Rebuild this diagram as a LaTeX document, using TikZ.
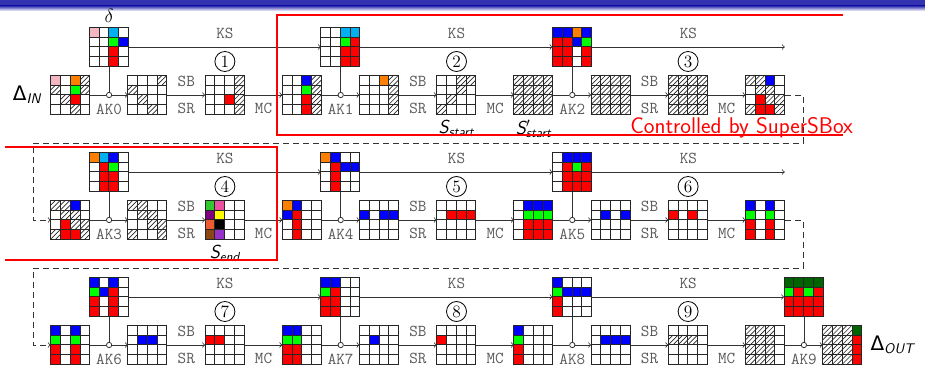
\documentclass[tikz,border=0pt]{standalone}
\usepackage{amsmath,amssymb}
\usepackage{fontspec}
\newfontfamily\deltafont{DejaVu Sans}
\usepackage{tikz}
\usetikzlibrary{positioning,calc,arrows}

\definecolor{beamerblue}{RGB}{51,51,178}
\definecolor{cpink}{RGB}{244,182,194}
\definecolor{corange}{RGB}{255,128,0}
\definecolor{ccyan}{RGB}{0,176,240}
\definecolor{cgreen}{RGB}{0,255,0}
\definecolor{cblue}{RGB}{0,0,255}
\definecolor{cred}{RGB}{255,0,0}
\definecolor{cdkgreen}{RGB}{0,100,0}
\definecolor{cmidgreen}{RGB}{50,200,50}
\definecolor{chotpink}{RGB}{236,80,160}
\definecolor{cpurple}{RGB}{128,0,128}
\definecolor{cyellow}{RGB}{255,255,0}
\definecolor{ctomato}{RGB}{238,90,50}
\definecolor{cbrown}{RGB}{140,70,20}
\definecolor{cviolet}{RGB}{150,50,200}

% one 4x4 state: name, centre, 16 cell codes row by row
\newcommand{\cellsz}{9.75}
\newcommand{\aesgrid}[3]{%
  \node[gridbox] (#1) at (#2) {};
  \foreach \c [count=\i from 0] in {#3}{%
    \pgfmathtruncatemacro{\cx}{mod(\i,4)}%
    \pgfmathtruncatemacro{\cy}{div(\i,4)}%
    \path[cell \c] ($(#1.north west)+(\cx*\cellsz,\cy*\cellsz)$) rectangle ++(\cellsz,\cellsz);
  }%
}

\begin{document}
\begin{tikzpicture}[x=0.75pt, y=-0.75pt,
  gridbox/.style={rectangle, minimum size=29.25pt, inner sep=0pt},
  cell/.style={draw=black!85, line width=0.7pt},
  hatch/.style={path picture={
    \draw[line width=0.5pt] (path picture bounding box.south west) -- (path picture bounding box.north east);
    \draw[line width=0.5pt] (path picture bounding box.west) -- (path picture bounding box.north);
    \draw[line width=0.5pt] (path picture bounding box.south) -- (path picture bounding box.east);}},
  cell w/.style={cell, fill=white},
  cell h/.style={cell, fill=white, hatch},
  cell p/.style={cell, fill=cpink},
  cell o/.style={cell, fill=corange},
  cell c/.style={cell, fill=ccyan},
  cell g/.style={cell, fill=cgreen},
  cell b/.style={cell, fill=cblue},
  cell r/.style={cell, fill=cred},
  cell dg/.style={cell, fill=cdkgreen},
  cell gg/.style={cell, fill=cmidgreen},
  cell hp/.style={cell, fill=chotpink},
  cell pu/.style={cell, fill=cpurple},
  cell ye/.style={cell, fill=cyellow},
  cell tm/.style={cell, fill=ctomato},
  cell bk/.style={cell, fill=black},
  cell br/.style={cell, fill=cbrown},
  cell vi/.style={cell, fill=cviolet},
  flow/.style={->, draw=black!80, line width=0.6pt},
  wrap/.style={flow, dash pattern=on 4.5pt off 3pt},
  keyline/.style={draw=black!80, line width=0.6pt},
  akdot/.style={circle, draw=black!80, fill=white, inner sep=0pt, minimum size=4pt, line width=0.6pt},
  oplabel/.style={font=\fontsize{12.5}{12.5}\selectfont\ttfamily, text=black!65, inner sep=1pt},
  roundnum/.style={circle, draw, inner sep=0.5pt, minimum size=15pt, line width=0.6pt, font=\fontsize{13}{13}\selectfont},
  svar/.style={font=\fontsize{14}{14}\selectfont\sffamily\itshape, inner sep=1pt},
  dlabel/.style={font=\fontsize{15}{15}\selectfont\sffamily, inner sep=1pt},
  superbox/.style={draw=cred, line width=1.9pt}]

\useasboundingbox (0,0) rectangle (925,367);

% slide header
\fill[beamerblue] (0,0) rectangle (925,6);
\shade[top color=beamerblue, bottom color=white] (0,6) rectangle (925,11);

% row 1
\aesgrid{a0}{70.5,95}{p,w,o,h,h,w,g,h,w,h,r,w,w,w,h,w}
\aesgrid{ka0}{109.1,47}{p,w,c,w,w,w,g,b,w,w,r,w,w,w,r,w}
\aesgrid{a1}{147.7,95}{w,w,w,h,h,w,w,w,w,h,w,w,w,w,h,w}
\aesgrid{a2}{224.9,95}{w,w,w,h,w,w,w,h,w,w,r,h,w,w,w,h}
\aesgrid{a3}{302.1,95}{w,w,b,h,w,w,g,h,w,w,r,h,w,w,r,h}
\aesgrid{ka1}{340.7,47}{w,w,c,c,w,w,g,r,w,w,r,r,w,w,r,r}
\aesgrid{a4}{379.3,95}{w,w,o,h,w,w,w,h,w,w,w,h,w,w,w,h}
\aesgrid{a5}{456.5,95}{w,w,h,h,w,w,h,w,w,h,w,w,h,w,w,w}
\aesgrid{a6}{533.7,95}{h,h,h,h,h,h,h,h,h,h,h,h,h,h,h,h}
\aesgrid{ka2}{572.3,47}{b,b,o,b,r,r,b,g,r,r,w,r,r,r,w,r}
\aesgrid{a7}{610.9,95}{h,h,h,h,h,h,h,h,h,h,h,h,h,h,h,h}
\aesgrid{a8}{688.1,95}{h,h,h,h,h,h,h,h,h,h,h,h,h,h,h,h}
\aesgrid{a9}{765.3,95}{h,h,b,w,w,h,h,w,w,r,h,h,h,r,r,h}

% row 2
\aesgrid{b0}{70.5,220}{h,h,b,w,w,h,h,w,w,r,h,h,h,r,r,h}
\aesgrid{kb0}{109.1,172}{o,c,b,w,w,r,g,w,w,r,r,w,w,r,r,w}
\aesgrid{b1}{147.7,220}{h,h,w,w,w,h,h,w,w,w,h,h,h,w,w,h}
\aesgrid{b2}{224.9,220}{gg,hp,w,w,pu,ye,w,w,tm,bk,w,w,br,vi,w,w}
\aesgrid{b3}{302.1,220}{o,b,w,w,b,r,w,w,w,r,w,w,w,r,w,w}
\aesgrid{kb1}{340.7,172}{o,b,w,w,w,r,b,b,w,r,w,w,w,r,w,w}
\aesgrid{b4}{379.3,220}{w,w,w,w,b,w,b,b,w,w,w,w,w,w,w,w}
\aesgrid{b5}{456.5,220}{w,w,w,w,w,r,r,r,w,w,w,w,w,w,w,w}
\aesgrid{b6}{533.7,220}{w,b,b,b,w,g,g,g,w,r,r,r,w,r,r,r}
\aesgrid{kb2}{572.3,172}{w,b,b,b,w,r,g,r,w,r,r,r,w,r,r,r}
\aesgrid{b7}{610.9,220}{w,w,w,w,w,b,w,b,w,w,w,w,w,w,w,w}
\aesgrid{b8}{688.1,220}{w,w,w,w,r,w,r,w,w,w,w,w,w,w,w,w}
\aesgrid{b9}{765.3,220}{b,w,b,w,g,w,g,w,r,w,r,w,r,w,r,w}

% row 3
\aesgrid{c0}{70.5,345}{b,w,b,w,g,w,g,w,r,w,r,w,r,w,r,w}
\aesgrid{kc0}{109.1,297}{b,w,b,w,g,b,r,w,r,w,r,w,r,w,r,w}
\aesgrid{c1}{147.7,345}{w,w,w,w,w,b,b,w,w,w,w,w,w,w,w,w}
\aesgrid{c2}{224.9,345}{w,w,w,w,r,r,w,w,w,w,w,w,w,w,w,w}
\aesgrid{c3}{302.1,345}{b,b,w,w,g,g,w,w,r,r,w,w,r,r,w,w}
\aesgrid{kc1}{340.7,297}{b,b,w,w,g,r,w,w,r,r,w,w,r,r,w,w}
\aesgrid{c4}{379.3,345}{w,w,w,w,w,b,w,w,w,w,w,w,w,w,w,w}
\aesgrid{c5}{456.5,345}{w,w,w,w,r,w,w,w,w,w,w,w,w,w,w,w}
\aesgrid{c6}{533.7,345}{b,w,w,w,g,w,w,w,r,w,w,w,r,w,w,w}
\aesgrid{kc2}{572.3,297}{b,w,w,w,g,b,b,b,r,w,w,w,r,w,w,w}
\aesgrid{c7}{610.9,345}{w,w,w,w,w,b,b,b,w,w,w,w,w,w,w,w}
\aesgrid{c8}{688.1,345}{w,w,w,w,h,h,h,w,w,w,w,w,w,w,w,w}
\aesgrid{c9}{765.3,345}{h,h,h,w,h,h,h,w,h,h,h,w,h,h,h,w}
\aesgrid{kc3}{803.9,297}{dg,dg,dg,dg,g,r,g,r,r,r,r,r,r,r,r,r}
\aesgrid{c10}{842.5,345}{h,h,h,dg,h,h,h,r,h,h,h,r,h,h,h,r}

% add-key points
\node[akdot] (ak0) at (109.1,95) {};
\node[akdot] (ak1) at (340.7,95) {};
\node[akdot] (ak2) at (572.3,95) {};
\node[akdot] (ak3) at (109.1,220) {};
\node[akdot] (ak4) at (340.7,220) {};
\node[akdot] (ak5) at (572.3,220) {};
\node[akdot] (ak6) at (109.1,345) {};
\node[akdot] (ak7) at (340.7,345) {};
\node[akdot] (ak8) at (572.3,345) {};
\node[akdot] (ak9) at (803.9,345) {};

\node[oplabel, below=3pt of ak0] (lak0) {AK0};
\node[oplabel, below=3pt of ak1] (lak1) {AK1};
\node[oplabel, below=3pt of ak2] (lak2) {AK2};
\node[oplabel, below=3pt of ak3] (lak3) {AK3};
\node[oplabel, below=3pt of ak4] (lak4) {AK4};
\node[oplabel, below=3pt of ak5] (lak5) {AK5};
\node[oplabel, below=3pt of ak6] (lak6) {AK6};
\node[oplabel, below=3pt of ak7] (lak7) {AK7};
\node[oplabel, below=3pt of ak8] (lak8) {AK8};
\node[oplabel, below=3pt of ak9] (lak9) {AK9};

\node[roundnum, above=2.5pt of a2] (n1) {1};
\node[roundnum, above=2.5pt of a5] (n2) {2};
\node[roundnum, above=2.5pt of a8] (n3) {3};
\node[roundnum, above=2.5pt of b2] (n4) {4};
\node[roundnum, above=2.5pt of b5] (n5) {5};
\node[roundnum, above=2.5pt of b8] (n6) {6};
\node[roundnum, above=2.5pt of c2] (n7) {7};
\node[roundnum, above=2.5pt of c5] (n8) {8};
\node[roundnum, above=2.5pt of c8] (n9) {9};

\node[font=\fontsize{14}{14}\selectfont, inner sep=1pt, above=2.5pt of ka0] (delta) {$\delta$};
\node[dlabel, left=6pt of a0] (din) {{\deltafont Δ}\textsubscript{\itshape IN}};
\node[dlabel, right=5pt of c10] (dout) {{\deltafont Δ}\textsubscript{\itshape OUT}};
\node[svar, below=3pt of a5] (sst) {S\textsubscript{start}};
\node[svar, below=3pt of a6] (sst2) {S\rlap{$'$}\textsubscript{start}};
\node[svar, below=3pt of b2] (send) {S\textsubscript{end}};

\coordinate (kend1) at (784.8,47);
\coordinate (kend2) at (784.8,172);
\coordinate (w1a) at (803,143);
\coordinate (w1b) at (33,143);
\coordinate (w2a) at (803,268);
\coordinate (w2b) at (33,268);

% key schedule
\draw[flow] (ka0) -- node[oplabel, above=5pt] (ks0) {KS} (ka1);
\draw[flow] (ka1) -- node[oplabel, above=5pt] (ks1) {KS} (ka2);
\draw[flow] (ka2) -- node[oplabel, above=5pt] (ks2) {KS} (kend1);
\draw[flow] (kb0) -- node[oplabel, above=5pt] (ks3) {KS} (kb1);
\draw[flow] (kb1) -- node[oplabel, above=5pt] (ks4) {KS} (kb2);
\draw[flow] (kb2) -- node[oplabel, above=5pt] (ks5) {KS} (kend2);
\draw[flow] (kc0) -- node[oplabel, above=5pt] (ks6) {KS} (kc1);
\draw[flow] (kc1) -- node[oplabel, above=5pt] (ks7) {KS} (kc2);
\draw[flow] (kc2) -- node[oplabel, above=5pt] (ks8) {KS} (kc3);

\draw[keyline] (ka0) -- (ak0);
\draw[keyline] (ka1) -- (ak1);
\draw[keyline] (ka2) -- (ak2);
\draw[keyline] (kb0) -- (ak3);
\draw[keyline] (kb1) -- (ak4);
\draw[keyline] (kb2) -- (ak5);
\draw[keyline] (kc0) -- (ak6);
\draw[keyline] (kc1) -- (ak7);
\draw[keyline] (kc2) -- (ak8);
\draw[keyline] (kc3) -- (ak9);

% rounds
\draw[flow] (a0) -- (ak0) -- (a1);
\draw[flow] (a1) -- node[oplabel, above=5pt] (sb1) {SB} node[oplabel, below=5pt] (sr1) {SR} (a2);
\draw[flow] (a2) -- node[oplabel, below=5pt] (mc1) {MC} (a3);
\draw[flow] (a3) -- (ak1) -- (a4);
\draw[flow] (a4) -- node[oplabel, above=5pt] (sb2) {SB} node[oplabel, below=5pt] (sr2) {SR} (a5);
\draw[flow] (a5) -- node[oplabel, below=5pt] (mc2) {MC} (a6);
\draw[flow] (a6) -- (ak2) -- (a7);
\draw[flow] (a7) -- node[oplabel, above=5pt] (sb3) {SB} node[oplabel, below=5pt] (sr3) {SR} (a8);
\draw[flow] (a8) -- node[oplabel, below=5pt] (mc3) {MC} (a9);

\draw[flow] (b0) -- (ak3) -- (b1);
\draw[flow] (b1) -- node[oplabel, above=5pt] (sb4) {SB} node[oplabel, below=5pt] (sr4) {SR} (b2);
\draw[flow] (b2) -- node[oplabel, below=5pt] (mc4) {MC} (b3);
\draw[flow] (b3) -- (ak4) -- (b4);
\draw[flow] (b4) -- node[oplabel, above=5pt] (sb5) {SB} node[oplabel, below=5pt] (sr5) {SR} (b5);
\draw[flow] (b5) -- node[oplabel, below=5pt] (mc5) {MC} (b6);
\draw[flow] (b6) -- (ak5) -- (b7);
\draw[flow] (b7) -- node[oplabel, above=5pt] (sb6) {SB} node[oplabel, below=5pt] (sr6) {SR} (b8);
\draw[flow] (b8) -- node[oplabel, below=5pt] (mc6) {MC} (b9);

\draw[flow] (c0) -- (ak6) -- (c1);
\draw[flow] (c1) -- node[oplabel, above=5pt] (sb7) {SB} node[oplabel, below=5pt] (sr7) {SR} (c2);
\draw[flow] (c2) -- node[oplabel, below=5pt] (mc7) {MC} (c3);
\draw[flow] (c3) -- (ak7) -- (c4);
\draw[flow] (c4) -- node[oplabel, above=5pt] (sb8) {SB} node[oplabel, below=5pt] (sr8) {SR} (c5);
\draw[flow] (c5) -- node[oplabel, below=5pt] (mc8) {MC} (c6);
\draw[flow] (c6) -- (ak8) -- (c7);
\draw[flow] (c7) -- node[oplabel, above=5pt] (sb9) {SB} node[oplabel, below=5pt] (sr9) {SR} (c8);
\draw[flow] (c8) -- node[oplabel, below=5pt] (mc9) {MC} (c9);
\draw[flow] (c9) -- (ak9) -- (c10);

% row wrap-around
\draw[wrap] (a9.east) -| (w1a) -- (w1b) |- (b0.west);
\draw[wrap] (b9.east) -| (w2a) -- (w2b) |- (c0.west);

% SuperSBox regions
\node[anchor=base west, text=cred, inner sep=0pt, font=\fontsize{17}{17}\selectfont\sffamily] (ctl) at (630,134) {Controlled by SuperSBox};
\draw[superbox] (843,15) -- (277,15) -- (277,135) -- (843,135);
\draw[superbox] (5,147) -- (277,147) -- (277,260) -- (5,260);
\end{tikzpicture}
\end{document}
